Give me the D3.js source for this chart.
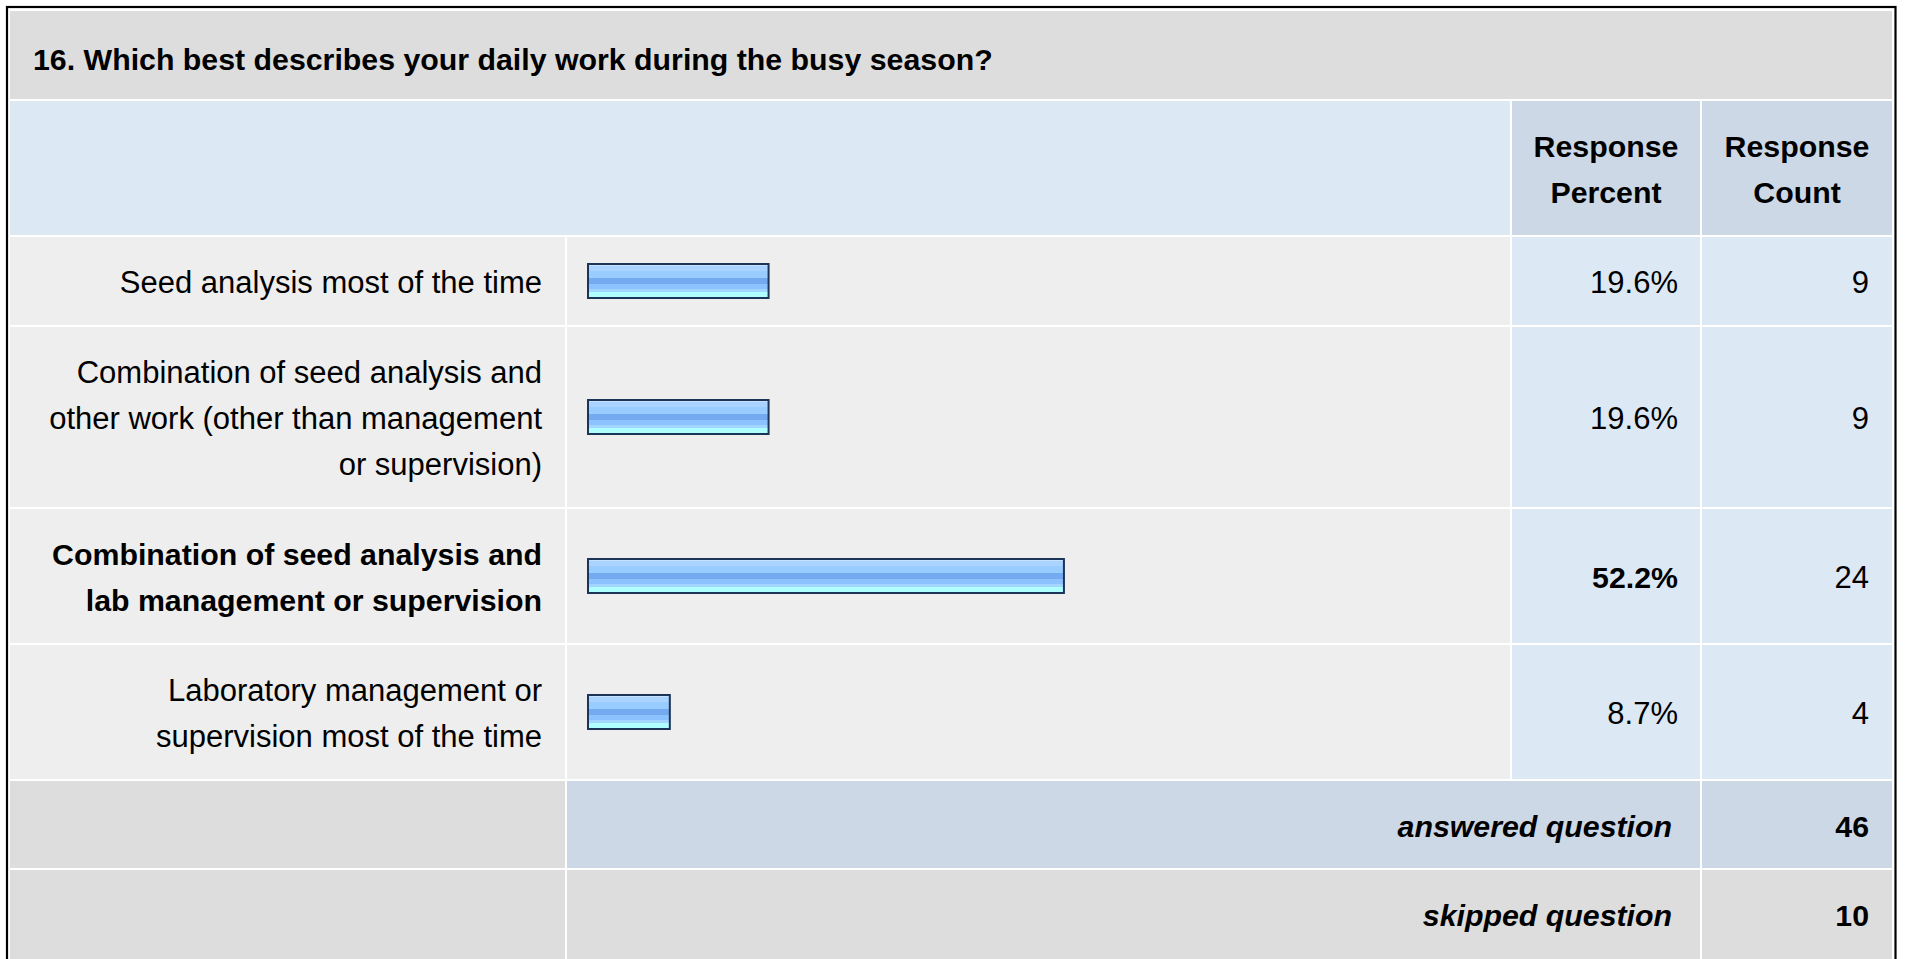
<!DOCTYPE html>
<html>
<head>
<meta charset="utf-8">
<script src="https://cdn.jsdelivr.net/npm/d3@7"></script>
<style>
  html, body { margin: 0; padding: 0; background: #ffffff; }
  svg { display: block; font-family: "Liberation Sans", Arial, Helvetica, sans-serif; }
</style>
</head>
<body>
<svg id="chart" width="1907" height="959"></svg>
<script>
// Survey question and answer choices (line breaks as shown in the table)
const question = "16. Which best describes your daily work during the busy season?";
const categories = [
  "Seed analysis most of the time",
  "Combination of seed analysis and\nother work (other than management\nor supervision)",
  "Combination of seed analysis and\nlab management or supervision",
  "Laboratory management or\nsupervision most of the time"
];
const percents = [19.6, 19.6, 52.2, 8.7];
const counts = [9, 9, 24, 4];
const columnHeaders = [["Response", "Percent"], ["Response", "Count"]];
const summaryLabels = ["answered question", "skipped question"];
const summaryValues = [46, 10];

const svg = d3.select("#chart");
const FS = 31;          // regular font size
const FS_BOLD = 30.3;   // bold font size
const LINE = 46;        // line height inside a cell
const GAP = 2;          // white cell spacing
const VIEW_BOTTOM = 958;

// Column edges: label | bar | percent | count
const col = {
  label: [10, 565],
  bar: [567, 1510],
  pct: [1512, 1700],
  cnt: [1702, 1892]
};
const PAD = 23;

const C = {
  title: "#dddddd",
  header: "#dde8f5",
  headerCol: "#ccd8e6",
  rowLabel: "#eeeeee",
  rowValue: "#dde8f5",
  summaryDark: "#ccd8e6",
  grey: "#dddddd"
};

// Outer frame
svg.append("rect").attr("x", 0).attr("y", 0).attr("width", 1907).attr("height", 959).attr("fill", "#ffffff");
svg.append("rect")
  .attr("x", 7).attr("y", 7).attr("width", 1888.5).attr("height", 1000)
  .attr("fill", "#ffffff").attr("stroke", "#000000").attr("stroke-width", 2.2);

function cell(x0, x1, y0, y1, fill) {
  svg.append("rect").attr("x", x0).attr("y", y0).attr("width", x1 - x0).attr("height", y1 - y0).attr("fill", fill);
}
function text(x, y, str, anchor, weight, style) {
  const isBold = weight === "bold";
  return svg.append("text")
    .attr("x", x).attr("y", y)
    .attr("text-anchor", anchor)
    .attr("font-size", isBold ? FS_BOLD : FS)
    .attr("font-weight", weight || "normal")
    .attr("font-style", style || "normal")
    .attr("fill", "#000000")
    .text(str);
}

// Title row
const titleY = [11, 99];
cell(col.label[0], col.cnt[1], titleY[0], titleY[1], C.title);
text(col.label[0] + PAD, 70, question, "start", "bold");

// Header row
const headY = [titleY[1] + GAP, 235];
cell(col.label[0], col.bar[1], headY[0], headY[1], C.header);
cell(col.pct[0], col.pct[1], headY[0], headY[1], C.headerCol);
cell(col.cnt[0], col.cnt[1], headY[0], headY[1], C.headerCol);
const headMid = (headY[0] + headY[1]) / 2;
[[col.pct, columnHeaders[0]], [col.cnt, columnHeaders[1]]].forEach(([c, lines]) => {
  lines.forEach((ln, i) => {
    text((c[0] + c[1]) / 2, headMid + LINE * (i - (lines.length - 1) / 2) + 12, ln, "middle", "bold");
  });
});

// Data rows: height grows with the number of label lines
const rows = [];
let y = headY[1] + GAP;
categories.forEach((c, i) => {
  const lines = c.split("\n");
  const h = 42 + LINE * lines.length;
  rows.push({ label: c, lines, pct: percents[i], cnt: counts[i], y0: y, y1: y + h });
  y += h + GAP;
});
const maxPct = d3.max(percents);

// Bar length scale
const x = d3.scaleLinear().domain([0, 100]).range([3, 909]);

// Glossy bar fill
const defs = svg.append("defs");
const grad = defs.append("linearGradient").attr("id", "barFill")
  .attr("x1", 0).attr("y1", 0).attr("x2", 0).attr("y2", 1);
[
  [0.00, "#c4e2ff"], [0.06, "#c4e2ff"], [0.06, "#aad4ff"], [0.22, "#aad4ff"],
  [0.22, "#99ccff"], [0.40, "#99ccff"], [0.40, "#74aaf0"], [0.60, "#74aaf0"],
  [0.60, "#8cc2ff"], [0.73, "#8cc2ff"], [0.73, "#a2d6ff"], [0.81, "#a2d6ff"],
  [0.81, "#b0ffff"], [1.00, "#b0ffff"]
].forEach(([o, c]) => grad.append("stop").attr("offset", o).attr("stop-color", c));

rows.forEach(r => {
  const bold = r.pct === maxPct ? "bold" : "normal";
  cell(col.label[0], col.label[1], r.y0, r.y1, C.rowLabel);
  cell(col.bar[0], col.bar[1], r.y0, r.y1, C.rowLabel);
  cell(col.pct[0], col.pct[1], r.y0, r.y1, C.rowValue);
  cell(col.cnt[0], col.cnt[1], r.y0, r.y1, C.rowValue);
  const mid = (r.y0 + r.y1) / 2;
  r.lines.forEach((ln, i) => {
    text(col.label[1] - PAD, mid + LINE * (i - (r.lines.length - 1) / 2) + 12, ln, "end", bold);
  });
  svg.append("rect")
    .attr("x", col.bar[0] + 21).attr("y", mid - 17)
    .attr("width", x(r.pct)).attr("height", 34)
    .attr("fill", "url(#barFill)")
    .attr("stroke", "#1c3458").attr("stroke-width", 2);
  text(col.pct[1] - 22, mid + 12, d3.format(".1f")(r.pct) + "%", "end", bold);
  text(col.cnt[1] - 23, mid + 12, r.cnt, "end");
});

// Summary rows (the last one runs past the bottom of the view)
const summaryRows = [
  { y0: y, y1: y + 87, fill: C.summaryDark },
  { y0: y + 89, y1: VIEW_BOTTOM + 2, fill: C.grey }
];
summaryRows.forEach((s, i) => {
  cell(col.label[0], col.label[1], s.y0, s.y1, C.grey);
  cell(col.bar[0], col.pct[1], s.y0, s.y1, s.fill);
  cell(col.cnt[0], col.cnt[1], s.y0, s.y1, s.fill);
  const mid = (s.y0 + Math.min(s.y1, VIEW_BOTTOM)) / 2;
  text(col.pct[1] - 28, mid + 12, summaryLabels[i], "end", "bold", "italic");
  text(col.cnt[1] - 23, mid + 12, summaryValues[i], "end", "bold");
});
</script>
</body>
</html>
